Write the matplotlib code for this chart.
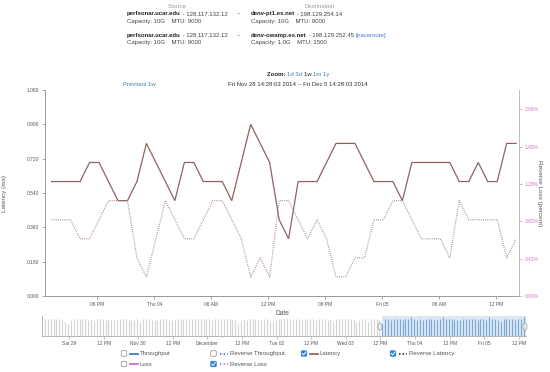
import matplotlib
matplotlib.use('Agg')
import matplotlib.pyplot as plt
import matplotlib.dates as mdates
import pandas as pd
from matplotlib.patches import FancyBboxPatch, Ellipse
from matplotlib.lines import Line2D

plt.rcParams['font.family'] = ['Liberation Sans', 'DejaVu Sans']

# ---------------- data ----------------
latency = [0.6, 0.6, 0.6, 0.6, 0.7, 0.7, 0.6, 0.5, 0.5, 0.6,
           0.8, 0.7, 0.6, 0.5, 0.7, 0.7, 0.6, 0.6, 0.6, 0.5,
           0.7, 0.9, 0.8, 0.7, 0.4, 0.3, 0.6, 0.6, 0.6, 0.7,
           0.8, 0.8, 0.8, 0.7, 0.6, 0.6, 0.6, 0.5, 0.7, 0.7,
           0.7, 0.7, 0.7, 0.6, 0.6, 0.7, 0.6, 0.6, 0.8, 0.8]
reverse_latency = [0.4, 0.4, 0.4, 0.3, 0.3, 0.4, 0.5, 0.5, 0.5, 0.2,
                   0.1, 0.3, 0.5, 0.4, 0.3, 0.3, 0.4, 0.5, 0.5, 0.4,
                   0.3, 0.1, 0.2, 0.1, 0.5, 0.5, 0.4, 0.3, 0.4, 0.3,
                   0.1, 0.1, 0.2, 0.2, 0.4, 0.4, 0.5, 0.5, 0.4, 0.3,
                   0.3, 0.3, 0.2, 0.5, 0.4, 0.4, 0.4, 0.4, 0.2, 0.3]
latency_start = '2014-12-03 13:10'

left_ticks = [0.0, 0.18, 0.36, 0.54, 0.72, 0.90, 1.08]
right_ticks = [0.0, 0.412, 0.824, 1.236, 1.648, 2.06]
right_labels = ['0.00%', '0.41%', '0.82%', '1.23%', '1.65%', '2.06%']

view_start = '2014-12-03 12:28:03'
view_end = '2014-12-05 14:28:03'
full_start = '2014-11-28 14:28:03'
full_end = '2014-12-05 14:28:03'

throughput = [9, 9, 9, 9, 9, 9, 8, 7, 6, 8, 9, 9, 9, 9, 9, 8, 9, 7, 9, 9, 9, 8, 9, 8,
              9, 8, 9, 9, 9, 8, 9, 8, 9, 7, 9, 9, 9, 8, 8, 8, 9, 9, 9, 8, 8, 9, 9, 9,
              8, 9, 9, 9, 9, 9, 9, 9, 9, 9, 8, 9, 9, 9, 9, 9, 9, 9, 8, 6, 7, 9, 8, 9,
              9, 9, 8, 9, 9, 9, 7, 7, 8, 9, 9, 9, 9, 9, 9, 9, 9, 8, 8, 9, 9, 9, 8, 9,
              9, 9, 8, 9, 7, 9, 9, 9, 9, 9, 9, 9, 7, 8, 9, 9, 7, 9, 9, 9, 8, 6, 9, 9,
              8, 9, 9, 9, 8, 9, 9, 10, 9, 8, 9, 8, 9, 9, 9, 8, 9, 9, 10, 9, 9, 9, 8, 8,
              8, 9, 9, 9, 9, 9, 8, 9, 9, 8, 10, 9, 9, 8, 7, 9, 9, 9, 9, 8, 9, 9, 10]
throughput_start = '2014-11-28 15:40'

nav_tick_times = ['2014-11-29 00:00', '2014-11-29 12:00', '2014-11-30 00:00', '2014-11-30 12:00',
                  '2014-12-01 00:00', '2014-12-01 12:00', '2014-12-02 00:00', '2014-12-02 12:00',
                  '2014-12-03 00:00', '2014-12-03 12:00', '2014-12-04 00:00', '2014-12-04 12:00',
                  '2014-12-05 00:00', '2014-12-05 12:00']
nav_tick_labels = ['Sat 29', '12 PM', 'Nov 30', '12 PM', 'December', '12 PM', 'Tue 02', '12 PM',
                   'Wed 03', '12 PM', 'Thu 04', '12 PM', 'Fri 05', '12 PM']

# ---------------- styles ----------------
W, H = 550, 372
LAT = '#8e6262'
PINK = '#d070d0'
BLUE = '#3b7fc4'
GRAY = '#555555'
AX = '#999999'
FS = 4.3
TFS = 3.5

fig = plt.figure(figsize=(W / 100, H / 100), dpi=100)
fig.patch.set_facecolor('white')

def fx(x):
    return x / W

def fy(y):
    return 1 - y / H

# ---------------- main chart ----------------
ax = fig.add_axes([fx(45), fy(296), fx(519) - fx(45), fy(90) - fy(296)])
t = pd.date_range(latency_start, periods=len(latency), freq='h')
ax.plot(t, latency, color=LAT, lw=0.9, solid_joinstyle='miter')
ax.plot(t, reverse_latency, color='#a07878', lw=0.9, ls=(0, (0.6, 1.1)))
ax.set_xlim(pd.Timestamp(view_start), pd.Timestamp(view_end))
ax.set_ylim(0, 1.08)
ax.set_yticks(left_ticks)
ax.set_yticklabels(['%.3f' % v for v in left_ticks])
ax.xaxis.set_major_locator(mdates.HourLocator(byhour=[0, 6, 12, 18]))

def fmt(x, pos=None):
    d = mdates.num2date(x)
    if d.hour == 0:
        return d.strftime('%a %d')
    return d.strftime('%I %p')

ax.xaxis.set_major_formatter(plt.FuncFormatter(fmt))
for s in ['top', 'right']:
    ax.spines[s].set_visible(False)
for s in ['left', 'bottom']:
    ax.spines[s].set_color(AX)
    ax.spines[s].set_linewidth(0.7)
ax.tick_params(axis='both', labelsize=TFS, colors=AX, labelcolor=GRAY,
               length=2.5, width=0.6, pad=2)
ax.set_xlabel('Date', fontsize=FS + 0.5, color=GRAY, labelpad=2)
ax.set_ylabel('Latency (ms)', fontsize=FS + 0.3, color=GRAY)
ax.yaxis.set_label_coords(-0.08, 0.5)

ax2 = ax.twinx()
ax2.set_ylim(0, 2.273)
ax2.set_yticks(right_ticks)
ax2.set_yticklabels(right_labels)
for s in ['top', 'left', 'bottom']:
    ax2.spines[s].set_visible(False)
ax2.spines['right'].set_color('#bbbbbb')
ax2.spines['right'].set_linewidth(0.7)
ax2.tick_params(axis='y', labelsize=TFS, colors='#bbbbbb', labelcolor=PINK,
                length=2.5, width=0.6, pad=1.5)
ax2.set_ylabel('Reverse Loss (percent)', fontsize=FS + 0.3, color=GRAY,
               rotation=270, va='center')
ax2.yaxis.set_label_coords(1.043, 0.5)

# ---------------- navigator ----------------
nav = fig.add_axes([fx(41.5), fy(336), fx(526) - fx(41.5), fy(316) - fy(336)])
nav.set_xlim(pd.Timestamp(full_start), pd.Timestamp(full_end))
nav.set_ylim(0, 10.3)
sel0, sel1 = pd.Timestamp(view_start), pd.Timestamp(view_end)
nav.axvspan(sel0, sel1, color='#dbe7f4', lw=0, zorder=0)
tt = pd.date_range(throughput_start, periods=len(throughput), freq='h')
cols = ['#7aa7d6' if sel0 <= x <= sel1 else '#d4d4d4' for x in tt]
nav.vlines(tt, 0, throughput, colors=cols, lw=0.8, zorder=2)
nav.set_xticks(pd.to_datetime(nav_tick_times))
nav.set_xticklabels(nav_tick_labels)
nav.set_yticks([])
for s in ['top', 'right']:
    nav.spines[s].set_visible(False)
for s in ['left', 'bottom']:
    nav.spines[s].set_color('#aaaaaa')
    nav.spines[s].set_linewidth(0.6)
nav.tick_params(axis='x', labelsize=TFS, colors='#aaaaaa', labelcolor=GRAY,
                length=2, width=0.5, pad=1.5)

# ---------------- overlay ----------------
ov = fig.add_axes([0, 0, 1, 1])
ov.axis('off')
ov.set_xlim(0, 1)
ov.set_ylim(0, 1)

for px in (380, 525):
    ov.add_patch(Ellipse((fx(px), fy(326.5)), fx(4), 7 / H, fc='#eeeeee', ec='#999999',
                         lw=0.5, transform=fig.transFigure, zorder=5))

def chain(parts, x, y):
    prev = None
    for s, kw in parts:
        if prev is None:
            prev = ov.text(fx(x), fy(y), s, fontsize=FS, ha='left',
                           va='baseline', transform=fig.transFigure, **kw)
        else:
            prev = ov.annotate(s, xy=(1, fy(y)), xycoords=(prev, 'figure fraction'),
                               fontsize=FS, ha='left', va='baseline', **kw)

fig.text(fx(177), fy(8.5), 'Source', fontsize=FS, color='#999999', ha='center', va='baseline')
fig.text(fx(320), fy(8.5), 'Destination', fontsize=FS, color='#999999', ha='center', va='baseline')

chain([('perfsonar.ucar.edu', dict(weight='bold', color='#222222')),
       (' - 128.117.132.12', dict(color='#444444'))], 127, 15.5)
fig.text(fx(237), fy(15.5), '--', fontsize=FS, color='#444444', va='baseline')
chain([('denv-pt1.es.net', dict(weight='bold', color='#222222')),
       (' - 198.129.254.14', dict(color='#444444'))], 251, 15.5)
fig.text(fx(127), fy(22.5), 'Capacity: 10G    MTU: 9000', fontsize=FS, color='#444444', va='baseline')
fig.text(fx(251), fy(22.5), 'Capacity: 10G    MTU: 9000', fontsize=FS, color='#444444', va='baseline')

chain([('perfsonar.ucar.edu', dict(weight='bold', color='#222222')),
       (' - 128.117.132.12', dict(color='#444444'))], 127, 37)
fig.text(fx(237), fy(37), '--', fontsize=FS, color='#444444', va='baseline')
chain([('denv-owamp.es.net', dict(weight='bold', color='#222222')),
       (' - 198.129.252.45 ', dict(color='#444444')),
       ('[traceroute]', dict(color=BLUE))], 251, 37)
fig.text(fx(127), fy(44), 'Capacity: 10G    MTU: 9000', fontsize=FS, color='#444444', va='baseline')
fig.text(fx(251), fy(44), 'Capacity: 1.0G    MTU: 1500', fontsize=FS, color='#444444', va='baseline')

chain([('Zoom: ', dict(weight='bold', color='#222222')),
       ('1d 3d ', dict(color=BLUE)),
       ('1w ', dict(color='#222222')),
       ('1m 1y', dict(color=BLUE))], 267, 76)
fig.text(fx(123), fy(86.5), 'Previous 1w', fontsize=FS, color=BLUE, va='baseline')
fig.text(fx(228), fy(86.5), 'Fri Nov 28 14:28:03 2014 -- Fri Dec 5 14:28:03 2014',
         fontsize=FS, color='#333333', va='baseline')

# ---------------- legend ----------------
def checkbox(x, y, checked):
    s = 5.5
    fc, ec = ('#2f7fd6', '#2f7fd6') if checked else ('white', '#888888')
    ov.add_patch(FancyBboxPatch((fx(x - s / 2), fy(y + s / 2)), fx(s), s / H,
                                boxstyle='round,pad=0,rounding_size=0.002',
                                fc=fc, ec=ec, lw=0.5, transform=fig.transFigure))
    if checked:
        ov.add_line(Line2D([fx(x - 1.7), fx(x - 0.4), fx(x + 1.8)],
                           [fy(y), fy(y + 1.5), fy(y - 1.6)], color='white', lw=0.7,
                           transform=fig.transFigure))

def legend_item(x, y, checked, color, ls, label):
    checkbox(x, y, checked)
    ov.add_line(Line2D([fx(x + 6), fx(x + 14)], [fy(y), fy(y)], color=color, lw=1.3,
                       ls=ls, transform=fig.transFigure))
    fig.text(fx(x + 16), fy(y), label, fontsize=FS, color=GRAY, va='center')

dots = (0, (0.8, 1.2))
legend_item(124, 353.5, False, BLUE, '-', 'Throughput')
legend_item(213.5, 353.5, False, BLUE, dots, 'Reverse Throughput')
legend_item(304, 353.5, True, LAT, '-', 'Latency')
legend_item(393, 353.5, True, '#333333', dots, 'Reverse Latency')
legend_item(124, 364, False, PINK, '-', 'Loss')
legend_item(213.5, 364, True, PINK, dots, 'Reverse Loss')

fig.savefig('out.png', dpi=100, facecolor='white')
